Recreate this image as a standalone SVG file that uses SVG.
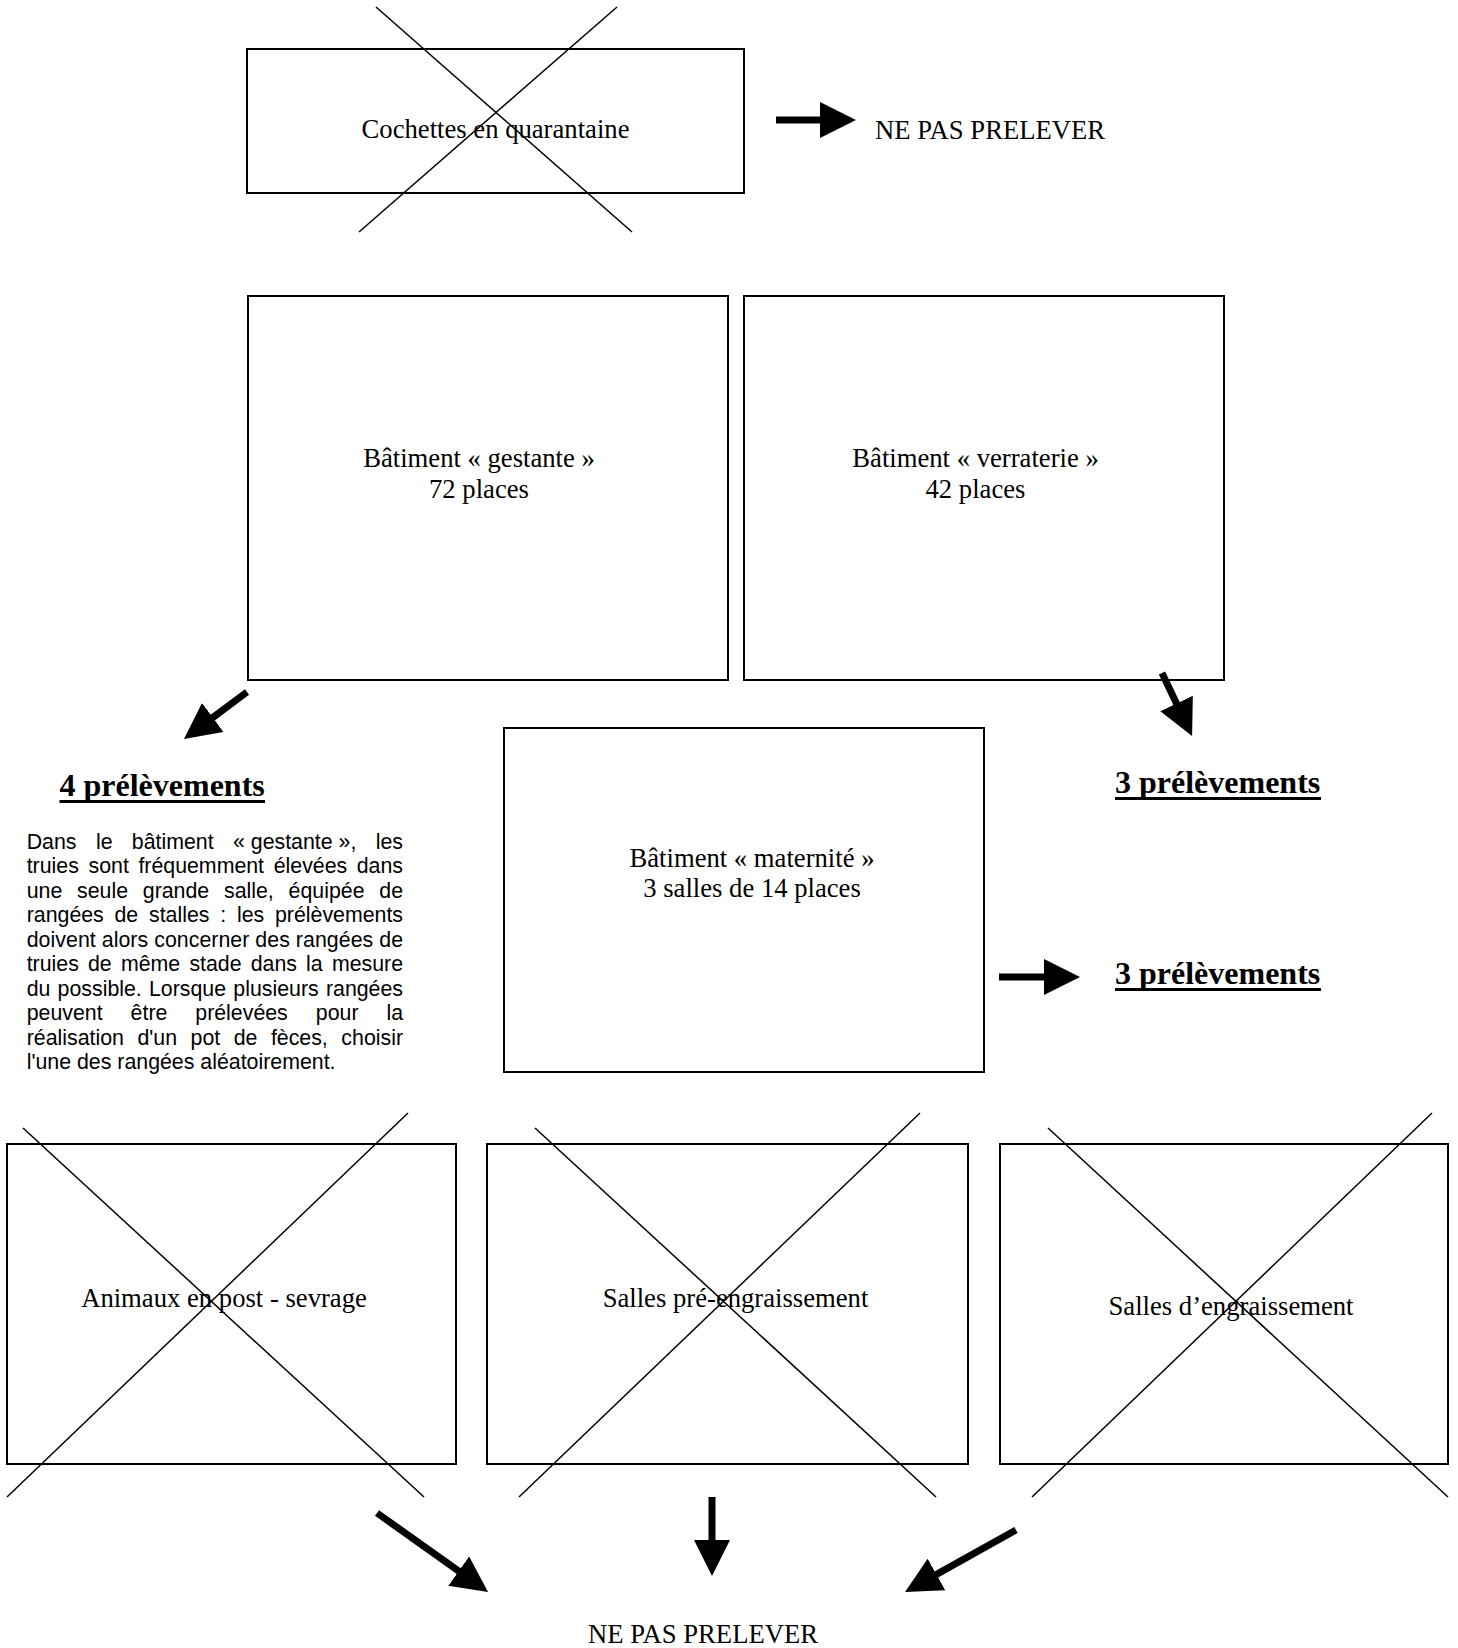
<svg xmlns="http://www.w3.org/2000/svg" width="1458" height="1648" viewBox="0 0 1458 1648">
<style>
.bg{fill:#fff}
.box{fill:#fff;stroke:#000;stroke-width:2}
.x{stroke:#000;stroke-width:1.5;fill:none}
.t{font-family:"Liberation Serif","Times New Roman",serif;font-size:26.67px;fill:#000}
.c{text-anchor:middle}
.h{font-family:"Liberation Serif","Times New Roman",serif;font-size:32px;font-weight:bold;fill:#000}
.ul{stroke:#000;stroke-width:3}
.p{font-family:"Liberation Sans",Arial,sans-serif;font-size:21.33px;fill:#000}
.e{text-anchor:end}
.arr{stroke:#000;stroke-width:7;fill:none;marker-end:url(#ah)}
</style>
<defs>
<marker id="ah" markerUnits="userSpaceOnUse" markerWidth="36" markerHeight="36" viewBox="0 0 36 36" refX="1" refY="18" orient="auto">
<path d="M0,0 L36,18 L0,36 Z" fill="#000"/>
</marker>
</defs>
<rect class="bg" x="0" y="0" width="1458" height="1648"/>

<g id="cochettes">
<rect class="box" x="247" y="49" width="497" height="144"/>
<line class="x" x1="376" y1="7" x2="632" y2="232"/>
<line class="x" x1="617" y1="7" x2="359" y2="232"/>
<text class="t c" x="495.5" y="138">Cochettes en quarantaine</text>
</g>
<g id="ne-pas-prelever-top">
<text class="t" x="875" y="139">NE PAS PRELEVER</text>
</g>

<g id="gestante">
<rect class="box" x="248" y="296" width="480" height="384"/>
<text class="t c" x="479" y="467">Bâtiment « gestante »</text>
<text class="t c" x="479" y="497.5">72 places</text>
</g>
<g id="verraterie">
<rect class="box" x="744" y="296" width="480" height="384"/>
<text class="t c" x="975.5" y="467">Bâtiment « verraterie »</text>
<text class="t c" x="975.5" y="497.5">42 places</text>
</g>
<g id="maternite">
<rect class="box" x="504" y="728" width="480" height="344"/>
<text class="t c" x="752" y="867">Bâtiment « maternité »</text>
<text class="t c" x="752" y="897">3 salles de 14 places</text>
</g>

<g id="prelev-gestante">
<text class="h" x="59.5" y="796">4 prélèvements</text>
<line class="ul" x1="59.5" y1="801.5" x2="265" y2="801.5"/>
</g>
<g id="prelev-verraterie">
<text class="h" x="1115" y="793">3 prélèvements</text>
<line class="ul" x1="1115" y1="798.5" x2="1321" y2="798.5"/>
</g>
<g id="prelev-maternite">
<text class="h" x="1115" y="984">3 prélèvements</text>
<line class="ul" x1="1115" y1="989.5" x2="1321" y2="989.5"/>
</g>

<g id="note">
<text class="p" y="848.5"><tspan x="26.7">Dans</tspan><tspan x="95.9">le</tspan><tspan x="131.8">bâtiment</tspan><tspan x="233">« gestante »,</tspan><tspan x="403" class="e">les</tspan></text>
<text class="p" y="873"><tspan x="26.7">truies</tspan><tspan x="88.5">sont</tspan><tspan x="138.4">fréquemment</tspan><tspan x="273.7">élevées</tspan><tspan x="403" class="e">dans</tspan></text>
<text class="p" y="897.6"><tspan x="26.7">une</tspan><tspan x="77.1">seule</tspan><tspan x="142.8">grande</tspan><tspan x="224">salle,</tspan><tspan x="288.6">équipée</tspan><tspan x="403" class="e">de</tspan></text>
<text class="p" y="922.1"><tspan x="26.7">rangées</tspan><tspan x="114.5">de</tspan><tspan x="149">stalles</tspan><tspan x="220.2">:</tspan><tspan x="236.9">les</tspan><tspan x="403" class="e">prélèvements</tspan></text>
<text class="p" x="26.7" y="946.6" textLength="376.3" lengthAdjust="spacing">doivent alors concerner des rangées de</text>
<text class="p" y="971.2"><tspan x="26.7">truies</tspan><tspan x="88">de</tspan><tspan x="120.9">même</tspan><tspan x="189.4">stade</tspan><tspan x="250.7">dans</tspan><tspan x="306.1">la</tspan><tspan x="403" class="e">mesure</tspan></text>
<text class="p" y="995.7"><tspan x="26.7">du</tspan><tspan x="57.6">possible.</tspan><tspan x="149">Lorsque</tspan><tspan x="233.3">plusieurs</tspan><tspan x="403" class="e">rangées</tspan></text>
<text class="p" y="1020.2"><tspan x="26.7">peuvent</tspan><tspan x="130.6">être</tspan><tspan x="195.3">prélevées</tspan><tspan x="315.8">pour</tspan><tspan x="403" class="e">la</tspan></text>
<text class="p" y="1044.8"><tspan x="26.7">réalisation</tspan><tspan x="137.4">d'un</tspan><tspan x="190.6">pot</tspan><tspan x="233.7">de</tspan><tspan x="270.9">fèces,</tspan><tspan x="403" class="e">choisir</tspan></text>
<text class="p" x="26.7" y="1069.3">l'une des rangées aléatoirement.</text>
</g>

<g id="post-sevrage">
<rect class="box" x="7" y="1144" width="449" height="320"/>
<line class="x" x1="23" y1="1128" x2="424" y2="1497"/>
<line class="x" x1="408" y1="1113" x2="7" y2="1497"/>
<text class="t c" x="224" y="1307">Animaux en post - sevrage</text>
</g>
<g id="pre-engraissement">
<rect class="box" x="487" y="1144" width="481" height="320"/>
<line class="x" x1="535" y1="1128" x2="936" y2="1497"/>
<line class="x" x1="920" y1="1113" x2="519" y2="1497"/>
<text class="t c" x="735.5" y="1307">Salles pré-engraissement</text>
</g>
<g id="engraissement">
<rect class="box" x="1000" y="1144" width="448" height="320"/>
<line class="x" x1="1048" y1="1128" x2="1448" y2="1497"/>
<line class="x" x1="1432" y1="1113" x2="1032" y2="1497"/>
<text class="t c" x="1231" y="1315">Salles d’engraissement</text>
</g>
<g id="ne-pas-prelever-bottom">
<text class="t c" x="703" y="1643">NE PAS PRELEVER</text>
</g>

<g id="connectors">
<line class="arr" x1="776" y1="120" x2="821" y2="120"/>
<line class="arr" x1="247" y1="692" x2="212" y2="718.1"/>
<line class="arr" x1="1162" y1="673" x2="1177" y2="704.4"/>
<line class="arr" x1="999" y1="977" x2="1045" y2="977"/>
<line class="arr" x1="377" y1="1513" x2="459.5" y2="1571.7"/>
<line class="arr" x1="712" y1="1497" x2="712" y2="1541"/>
<line class="arr" x1="1016" y1="1530" x2="935.6" y2="1574.9"/>
</g>
</svg>
